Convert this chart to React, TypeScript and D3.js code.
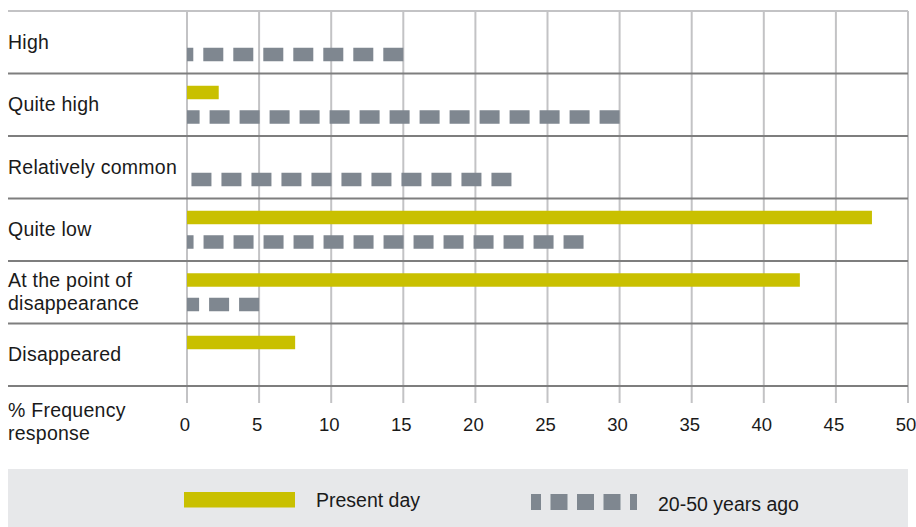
import React from "react";
import * as d3 from "d3";

// Frequency of responses by perceived abundance
const categories = [
  "High",
  "Quite high",
  "Relatively common",
  "Quite low",
  "At the point of disappearance",
  "Disappeared",
];
const categoryLines = [
  ["High"],
  ["Quite high"],
  ["Relatively common"],
  ["Quite low"],
  ["At the point of", "disappearance"],
  ["Disappeared"],
];
const presentDay = [0, 2.2, 0, 47.5, 42.5, 7.5];
const pastYears = [15, 30, 22.5, 27.5, 5, 0];
const xTicks = [0, 5, 10, 15, 20, 25, 30, 35, 40, 45, 50];
const axisTitle = ["% Frequency", "response"];
const seriesNames = ["Present day", "20-50 years ago"];

const W = 916;
const H = 527;
const FONT = "'Liberation Sans', Arial, Helvetica, sans-serif";
const YELLOW = "#c9c000";
const GRAY = "#7f8790";
const GRID = "#c3c3c5";
const RULE = "#7e7e7e";

export default function App() {
  const x = d3.scaleLinear().domain([0, 50]).range([187, 908]);
  const y = d3.scaleBand<string>().domain(categories).range([11, 386]);
  const sub = d3
    .scaleBand<string>()
    .domain(["present", "past"])
    .range([0, y.bandwidth()])
    .paddingInner(0.45)
    .paddingOuter(0.5);
  const bh = sub.bandwidth();
  const rowEdges = categories.map((c) => (y(c) as number) + y.bandwidth());

  return (
    <div style={{ position: "absolute", left: 0, top: 0, width: W, height: H }}>
      <svg width={W} height={H} style={{ display: "block", fontFamily: FONT }}>
        <rect x={0} y={0} width={W} height={H} fill="#ffffff" />

        {/* vertical grid */}
        {xTicks.map((t) => (
          <line
            key={"g" + t}
            x1={x(t)}
            x2={x(t)}
            y1={11}
            y2={403}
            stroke={GRID}
            strokeWidth={2}
          />
        ))}

        {/* top border and row separators */}
        <line x1={8} x2={908} y1={11} y2={11} stroke={GRID} strokeWidth={2} />
        {rowEdges.map((e, i) => (
          <line
            key={"r" + i}
            x1={8}
            x2={908}
            y1={e}
            y2={e}
            stroke={RULE}
            strokeWidth={2}
          />
        ))}

        {/* bars */}
        {categories.map((c, i) => {
          const top = y(c) as number;
          const yp = top + (sub("present") as number);
          const yq = top + (sub("past") as number);
          return (
            <g key={"b" + c}>
              {presentDay[i] > 0 && (
                <rect
                  x={x(0)}
                  y={yp}
                  width={x(presentDay[i]) - x(0)}
                  height={bh}
                  fill={YELLOW}
                />
              )}
              {pastYears[i] > 0 && (
                <line
                  x1={x(pastYears[i])}
                  x2={x(0)}
                  y1={yq + bh / 2}
                  y2={yq + bh / 2}
                  stroke={GRAY}
                  strokeWidth={bh}
                  strokeDasharray="20 10"
                />
              )}
            </g>
          );
        })}

        {/* category labels */}
        {categories.map((c, i) => {
          const mid = (y(c) as number) + y.bandwidth() / 2;
          const lines = categoryLines[i];
          return (
            <text
              key={"l" + c}
              fontSize={19.5}
              letterSpacing={0.25}
              fill="#1a1a1a"
            >
              {lines.map((ln, j) => (
                <tspan
                  key={j}
                  x={8}
                  y={mid + 6.5 - (lines.length - 1) * 11.5 + j * 23}
                >
                  {ln}
                </tspan>
              ))}
            </text>
          );
        })}

        {/* x axis labels */}
        {xTicks.map((t) => (
          <text
            key={"t" + t}
            x={x(t) - 2}
            y={431}
            fontSize={18.5}
            textAnchor="middle"
            fill="#1a1a1a"
          >
            {t}
          </text>
        ))}
        <text fontSize={19.5} letterSpacing={0.25} fill="#1a1a1a">
          {axisTitle.map((ln, j) => (
            <tspan key={j} x={8} y={417 + j * 23}>
              {ln}
            </tspan>
          ))}
        </text>

        {/* legend */}
        <rect x={8} y={469} width={900} height={H - 469} fill="#e7e8ea" />
        <rect x={184} y={492} width={111} height={15.5} fill={YELLOW} />
        <text x={316} y={507} fontSize={19.5} fill="#1a1a1a">
          {seriesNames[0]}
        </text>
        <line
          x1={531}
          x2={637}
          y1={502}
          y2={502}
          stroke={GRAY}
          strokeWidth={16}
          strokeDasharray="17 9.5"
          strokeDashoffset={7}
        />
        <text x={658} y={511} fontSize={19.5} fill="#1a1a1a">
          {seriesNames[1]}
        </text>
      </svg>
    </div>
  );
}
